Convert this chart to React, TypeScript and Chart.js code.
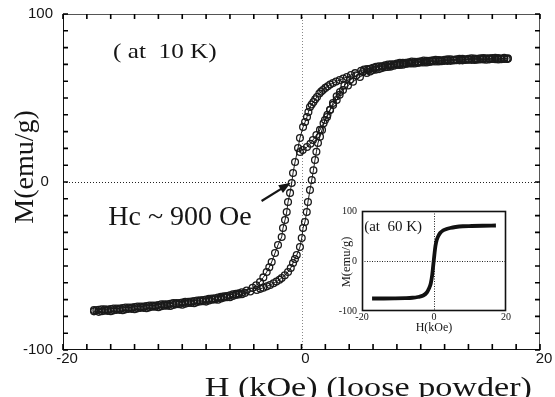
import React, { useEffect, useRef } from "react";
import { Chart, registerables } from "chart.js";

Chart.register(...registerables);

// ---------- Main loop at 10 K: [H (kOe), M (emu/g)] ----------
// initial branch (starting near remanence, going to +H max)
const INIT_LOOP: [number, number][] = [
  [-0.13, 17.9], [0.1, 19.0], [0.46, 20.8], [0.75, 22.8], [0.96, 25.0], [1.25, 28.0], [1.55, 31.0], [1.85, 35.0],
  [2.14, 38.7], [2.4, 43.0], [2.64, 47.0], [2.95, 51.0], [3.23, 53.6], [3.6, 57.5], [4.07, 60.7], [4.6, 63.5],
  [5.15, 65.5], [5.6, 66.6], [6.2, 67.8], [6.8, 68.7], [7.4, 69.5], [8.0, 70.1], [8.6, 70.6], [9.2, 71.0],
  [9.8, 71.4], [10.4, 71.7], [11.0, 72.0], [11.6, 72.2], [12.2, 72.4], [12.8, 72.6], [13.4, 72.8], [14.0, 72.9],
  [14.6, 73.1], [15.2, 73.2], [15.8, 73.3], [16.4, 73.3], [17.0, 73.4], [17.3, 73.3],
];

// descending branch (+H max -> -H max)
const DESC_LOOP: [number, number][] = [
  [17.3, 73.6], [17.0, 73.9], [16.75, 73.5], [16.5, 73.8], [16.25, 74.0], [16.0, 73.8], [15.75, 73.6], [15.5, 73.7],
  [15.25, 73.8], [15.0, 73.6], [14.75, 73.3], [14.5, 73.5], [14.25, 73.6], [14.0, 73.4], [13.75, 73.1], [13.5, 73.3],
  [13.25, 73.4], [13.0, 73.1], [12.75, 72.8], [12.5, 73.0], [12.25, 73.1], [12.0, 72.8], [11.75, 72.5], [11.5, 72.6],
  [11.25, 72.7], [11.0, 72.4], [10.75, 72.1], [10.5, 72.2], [10.25, 72.3], [10.0, 71.9], [9.75, 71.6], [9.5, 71.6],
  [9.25, 71.7], [9.0, 71.3], [8.75, 70.9], [8.5, 70.9], [8.25, 70.9], [8.0, 70.5], [7.75, 70.1], [7.5, 70.0],
  [7.25, 69.9], [7.0, 69.4], [6.75, 68.9], [6.5, 68.8], [6.25, 68.6], [6.0, 68.0], [5.75, 67.4], [5.5, 67.2],
  [5.25, 66.9], [5.0, 66.2], [4.5, 64.8], [4.15, 63.7], [3.81, 62.5], [3.5, 61.6], [3.2, 60.7], [2.9, 59.8],
  [2.64, 58.9], [2.4, 58.0], [2.2, 57.0], [2.0, 56.0], [1.8, 54.8], [1.65, 53.8], [1.5, 52.7], [1.3, 50.6],
  [1.15, 49.2], [1.0, 47.6], [0.85, 46.1], [0.71, 44.6], [0.58, 41.6], [0.46, 38.7], [0.3, 35.7], [0.13, 32.7],
  [-0.13, 26.2], [-0.29, 20.2], [-0.54, 11.9], [-0.71, 5.4], [-0.82, -0.6], [-0.96, -6.5], [-1.13, -11.9], [-1.24, -17.9],
  [-1.38, -22.6], [-1.55, -27.4], [-1.66, -32.7], [-1.97, -37.5], [-2.22, -42.3], [-2.5, -47.6], [-2.7, -50.7], [-2.92, -53.6],
  [-3.2, -56.8], [-3.48, -59.5], [-3.8, -61.5], [-4.1, -63.0], [-4.6, -64.6], [-5.0, -65.6], [-5.25, -66.3], [-5.5, -66.6],
  [-5.75, -66.8], [-6.0, -67.4], [-6.25, -67.9], [-6.5, -68.1], [-6.75, -68.3], [-7.0, -68.8], [-7.25, -69.2], [-7.5, -69.4],
  [-7.75, -69.5], [-8.0, -69.9], [-8.25, -70.3], [-8.5, -70.4], [-8.75, -70.5], [-9.0, -70.9], [-9.25, -71.2], [-9.5, -71.3],
  [-9.75, -71.3], [-10.0, -71.7], [-10.25, -72.0], [-10.5, -72.1], [-10.75, -72.1], [-11.0, -72.5], [-11.25, -72.8], [-11.5, -72.8],
  [-11.75, -72.8], [-12.0, -73.2], [-12.25, -73.5], [-12.5, -73.5], [-12.75, -73.5], [-13.0, -73.8], [-13.25, -74.1], [-13.5, -74.1],
  [-13.75, -74.1], [-14.0, -74.4], [-14.25, -74.7], [-14.5, -74.7], [-14.75, -74.7], [-15.0, -75.0], [-15.25, -75.3], [-15.5, -75.3],
  [-15.75, -75.3], [-16.0, -75.6], [-16.25, -75.9], [-16.5, -75.8], [-16.75, -75.8], [-17.0, -76.0], [-17.2, -76.3], [-17.4, -76.2],
];

// ascending branch (-H max -> +H max)
const ASC_LOOP: [number, number][] = [
  [-17.4, -77.0], [-17.0, -77.3], [-16.75, -76.9], [-16.5, -76.6], [-16.25, -76.7], [-16.0, -76.9], [-15.75, -76.4], [-15.5, -76.1],
  [-15.25, -76.1], [-15.0, -76.3], [-14.75, -75.8], [-14.5, -75.5], [-14.25, -75.5], [-14.0, -75.7], [-13.75, -75.2], [-13.5, -74.9],
  [-13.25, -74.9], [-13.0, -75.1], [-12.75, -74.6], [-12.5, -74.3], [-12.25, -74.3], [-12.0, -74.5], [-11.75, -73.9], [-11.5, -73.6],
  [-11.25, -73.6], [-11.0, -73.8], [-10.75, -73.2], [-10.5, -72.8], [-10.25, -72.8], [-10.0, -73.0], [-9.75, -72.4], [-9.5, -72.0],
  [-9.25, -72.0], [-9.0, -72.2], [-8.75, -71.5], [-8.5, -71.1], [-8.25, -71.0], [-8.0, -71.2], [-7.75, -70.5], [-7.5, -70.1],
  [-7.25, -69.9], [-7.0, -70.1], [-6.75, -69.3], [-6.5, -68.8], [-6.25, -68.6], [-6.0, -68.6], [-5.75, -67.8], [-5.5, -67.2],
  [-5.25, -67.0], [-5.0, -66.8], [-4.75, -66.0], [-4.3, -65.2], [-3.75, -64.3], [-3.45, -63.6], [-3.2, -62.9], [-2.9, -62.1],
  [-2.64, -61.3], [-2.35, -60.3], [-2.1, -59.3], [-1.85, -58.2], [-1.66, -57.1], [-1.4, -55.5], [-1.13, -53.6], [-0.9, -51.2],
  [-0.71, -48.2], [-0.55, -45.8], [-0.4, -43.5], [-0.13, -38.7], [0.02, -33.3], [0.13, -27.4], [0.29, -23.8], [0.44, -17.9],
  [0.54, -11.9], [0.71, -4.8], [0.86, 1.2], [1.0, 7.0], [1.13, 13.1], [1.25, 18.0], [1.38, 23.2], [1.55, 27.0],
  [1.72, 31.0], [1.97, 36.9], [2.18, 40.0], [2.39, 42.9], [2.65, 45.9], [2.95, 48.8], [3.2, 51.9], [3.48, 54.8],
  [3.9, 57.4], [4.32, 59.7], [4.9, 62.5], [5.47, 64.9], [5.75, 65.8], [6.0, 66.6], [6.25, 66.9], [6.5, 67.2],
  [6.75, 67.8], [7.0, 68.3], [7.25, 68.5], [7.5, 68.7], [7.75, 69.2], [8.0, 69.6], [8.25, 69.7], [8.5, 69.8],
  [8.75, 70.2], [9.0, 70.5], [9.25, 70.6], [9.5, 70.6], [9.75, 70.9], [10.0, 71.2], [10.25, 71.2], [10.5, 71.2],
  [10.75, 71.5], [11.0, 71.7], [11.25, 71.7], [11.5, 71.7], [11.75, 71.9], [12.0, 72.1], [12.25, 72.1], [12.5, 72.1],
  [12.75, 72.3], [13.0, 72.5], [13.25, 72.4], [13.5, 72.4], [13.75, 72.6], [14.0, 72.8], [14.25, 72.7], [14.5, 72.6],
  [14.75, 72.8], [15.0, 73.0], [15.25, 72.9], [15.5, 72.8], [15.75, 73.0], [16.0, 73.2], [16.25, 73.1], [16.5, 72.9],
  [16.75, 73.1], [17.0, 73.3], [17.2, 73.2],
];

// ---------- Inset loop at 60 K ----------
const INSET_H = [-17.2, -14, -11, -8, -6, -4.5, -3, -2, -1.4, -0.9, -0.5, -0.2, 0.1, 0.4, 0.75, 1.2, 1.7, 2.5, 3.5, 4.5, 6, 8, 10.5, 13.5, 17.2];
const INSET_M = [-75, -75, -74.8, -74.3, -73.5, -72, -69, -63, -55, -45, -28, -8, 12, 30, 42, 50, 56, 61, 64, 66, 68, 69.5, 70, 70.5, 71];

// ---------- Axis ticks, tick labels & texts ----------
const MAIN_X_TICK_STEP = 2;
const MAIN_Y_TICK_STEP = 10;
const MAIN_X_LABELS = [-20, 0, 20];
const MAIN_Y_LABELS = [-100, 0, 100];
const INSET_X_LABELS = [-20, 0, 20];
const INSET_Y_LABELS = [-100, 0, 100];

const X_TITLE = "H (kOe) (loose powder)";
const Y_TITLE = "M(emu/g)";
const MAIN_TEMP_LABEL = "( at  10 K)";
const HC_LABEL = "Hc ~ 900 Oe";
const INSET_TEMP_LABEL = "(at  60 K)";
const INSET_X_TITLE = "H(kOe)";
const INSET_Y_TITLE = "M(emu/g)";

const SERIF = "'Liberation Serif', 'Times New Roman', serif";
const SANS = "'Liberation Sans', Arial, sans-serif";
const INK = "#151515";

function toPoints(xs: number[], ys: number[]) {
  return xs.map((x, i) => ({ x, y: ys[i] }));
}

function pairsToPoints(pairs: [number, number][]) {
  return pairs.map(([x, y]) => ({ x, y }));
}

function drawText(
  ctx: CanvasRenderingContext2D,
  text: string,
  x: number,
  y: number,
  font: string,
  align: CanvasTextAlign = "left",
  sx = 1,
  rotate = 0
) {
  ctx.save();
  ctx.translate(x, y);
  if (rotate) ctx.rotate(rotate);
  ctx.scale(sx, 1);
  ctx.font = font;
  ctx.fillStyle = INK;
  ctx.textAlign = align;
  ctx.textBaseline = "alphabetic";
  ctx.fillText(text, 0, 0);
  ctx.restore();
}

function seg(ctx: CanvasRenderingContext2D, x1: number, y1: number, x2: number, y2: number) {
  ctx.beginPath();
  ctx.moveTo(x1, y1);
  ctx.lineTo(x2, y2);
  ctx.stroke();
}

function tickValues(min: number, max: number, step: number) {
  const out: number[] = [];
  for (let v = min; v <= max + 1e-9; v += step) out.push(Math.round(v * 1000) / 1000);
  return out;
}

const mainDecor = {
  id: "mainDecor",
  beforeDatasetsDraw(chart: any) {
    const { ctx, chartArea: a, scales } = chart;
    const x = scales.x;
    const y = scales.y;
    ctx.save();
    ctx.lineWidth = 1;
    // dotted zero lines
    ctx.setLineDash([1, 2]);
    const y0 = Math.round(y.getPixelForValue(0)) + 0.5;
    ctx.strokeStyle = "#222";
    seg(ctx, a.left, y0, a.right, y0);
    const x0 = Math.round(x.getPixelForValue(0)) + 0.5;
    ctx.strokeStyle = "#888";
    seg(ctx, x0, a.top, x0, a.bottom);
    ctx.setLineDash([]);
    // frame
    ctx.strokeStyle = "#111";
    seg(ctx, a.left + 0.5, a.top, a.left + 0.5, a.bottom);
    seg(ctx, a.left, a.bottom - 0.5, a.right, a.bottom - 0.5);
    ctx.strokeStyle = "#555";
    seg(ctx, a.left, a.top + 0.5, a.right, a.top + 0.5);
    seg(ctx, a.right - 0.5, a.top, a.right - 0.5, a.bottom);
    // inward ticks on all four sides
    ctx.lineWidth = 1.6;
    ctx.strokeStyle = "#000";
    const xs = tickValues(-20, 20, MAIN_X_TICK_STEP);
    for (let i = 0; i < xs.length; i++) {
      const px = x.getPixelForValue(xs[i]);
      ctx.beginPath();
      ctx.moveTo(px, a.bottom);
      ctx.lineTo(px, a.bottom - 6);
      ctx.moveTo(px, a.top);
      ctx.lineTo(px, a.top + 5);
      ctx.stroke();
    }
    const ys = tickValues(-100, 100, MAIN_Y_TICK_STEP);
    for (let i = 0; i < ys.length; i++) {
      const py = y.getPixelForValue(ys[i]);
      ctx.beginPath();
      ctx.moveTo(a.left, py);
      ctx.lineTo(a.left + 5, py);
      ctx.moveTo(a.right, py);
      ctx.lineTo(a.right - 5, py);
      ctx.stroke();
    }
    ctx.restore();
  },
  afterDatasetsDraw(chart: any) {
    const { ctx, chartArea: a, scales } = chart;
    const x = scales.x;
    const y = scales.y;
    // annotations
    drawText(ctx, MAIN_TEMP_LABEL, x.getPixelForValue(-15.8), y.getPixelForValue(74.0), `21px ${SERIF}`, "left", 1.2);
    drawText(ctx, HC_LABEL, x.getPixelForValue(-16.2), y.getPixelForValue(-25.6), `28px ${SERIF}`, "left", 1);
    // arrow to Hc
    const tx = x.getPixelForValue(-3.35);
    const ty = y.getPixelForValue(-11.3);
    const hx = x.getPixelForValue(-0.9);
    const hy = y.getPixelForValue(-0.5);
    const ang = Math.atan2(hy - ty, hx - tx);
    const dx = Math.cos(ang);
    const dy = Math.sin(ang);
    ctx.save();
    ctx.strokeStyle = INK;
    ctx.fillStyle = INK;
    ctx.lineWidth = 2.2;
    seg(ctx, tx, ty, hx - dx * 8, hy - dy * 8);
    ctx.beginPath();
    ctx.moveTo(hx, hy);
    ctx.lineTo(hx - dx * 12 - dy * 4.5, hy - dy * 12 + dx * 4.5);
    ctx.lineTo(hx - dx * 12 + dy * 4.5, hy - dy * 12 - dx * 4.5);
    ctx.closePath();
    ctx.fill();
    ctx.restore();
    // axis titles
    drawText(ctx, Y_TITLE, a.left - 30, a.top + 153, `28px ${SERIF}`, "center", 1, -Math.PI / 2);
    drawText(ctx, X_TITLE, a.right - 8, chart.height - 1, `28px ${SERIF}`, "right", 1.22);
  },
};

const insetDecor = {
  id: "insetDecor",
  beforeDatasetsDraw(chart: any) {
    const { ctx, chartArea: a, scales } = chart;
    const x = scales.x;
    const y = scales.y;
    ctx.save();
    ctx.lineWidth = 1;
    ctx.setLineDash([1, 1.5]);
    ctx.strokeStyle = "#222";
    const y0 = Math.round(y.getPixelForValue(0)) + 0.5;
    seg(ctx, a.left, y0, a.right, y0);
    const x0 = Math.round(x.getPixelForValue(0)) + 0.5;
    seg(ctx, x0, a.top, x0, a.bottom);
    ctx.setLineDash([]);
    ctx.lineWidth = 1.6;
    ctx.strokeStyle = "#111";
    ctx.strokeRect(a.left + 0.5, a.top + 0.5, a.right - a.left - 1, a.bottom - a.top - 1);
    ctx.restore();
  },
  afterDatasetsDraw(chart: any) {
    const { ctx, chartArea: a, scales } = chart;
    const x = scales.x;
    const y = scales.y;
    drawText(ctx, INSET_TEMP_LABEL, x.getPixelForValue(-19.4), y.getPixelForValue(60), `15px ${SERIF}`, "left", 1);
    drawText(ctx, INSET_Y_TITLE, a.left - 12, (a.top + a.bottom) / 2 + 1, `12.5px ${SERIF}`, "center", 1, -Math.PI / 2);
    drawText(ctx, INSET_X_TITLE, (a.left + a.right) / 2, a.bottom + 20, `12px ${SERIF}`, "center", 1);
  },
};

const loopStyle = {
  showLine: true,
  borderColor: "#1a1a1a",
  borderWidth: 1,
  pointRadius: 3.4,
  pointBorderWidth: 1.3,
  pointBorderColor: "#1a1a1a",
  pointBackgroundColor: "rgba(255,255,255,0)",
  pointHoverRadius: 3.4,
  tension: 0,
};

function fixedBox(width?: number, height?: number) {
  return (s: any) => {
    if (width !== undefined) s.width = width;
    if (height !== undefined) s.height = height;
    s.paddingTop = 0;
    s.paddingBottom = 0;
    s.paddingLeft = 0;
    s.paddingRight = 0;
  };
}

export default function App() {
  const mainRef = useRef<HTMLCanvasElement | null>(null);
  const insetRef = useRef<HTMLCanvasElement | null>(null);

  useEffect(() => {
    document.body.style.margin = "0";
    const main = new Chart(mainRef.current as HTMLCanvasElement, {
      type: "scatter",
      data: {
        datasets: [
          { label: "ascending", data: pairsToPoints(ASC_LOOP), ...loopStyle },
          { label: "descending", data: pairsToPoints(DESC_LOOP), ...loopStyle },
          { label: "initial", data: pairsToPoints(INIT_LOOP), ...loopStyle },
        ],
      },
      options: {
        responsive: false,
        animation: false,
        events: [],
        layout: { padding: { top: 14, right: 15, left: 0, bottom: 0 } },
        plugins: { legend: { display: false }, tooltip: { enabled: false } },
        scales: {
          x: {
            type: "linear",
            min: -20,
            max: 20,
            grid: { display: false, drawTicks: false, tickLength: 0 },
            border: { display: false },
            ticks: {
              stepSize: MAIN_X_TICK_STEP,
              autoSkip: false,
              maxRotation: 0,
              padding: 0,
              labelOffset: 4,
              color: INK,
              font: { family: SANS, size: 15 },
              callback: (v: any) => (MAIN_X_LABELS.includes(Number(v)) ? String(v) : ""),
            },
            afterFit: fixedBox(undefined, 47),
          },
          y: {
            type: "linear",
            min: -100,
            max: 100,
            grid: { display: false, drawTicks: false, tickLength: 0 },
            border: { display: false },
            ticks: {
              stepSize: MAIN_Y_TICK_STEP,
              autoSkip: false,
              padding: 10,
              color: INK,
              font: { family: SANS, size: 15 },
              callback: (v: any) => {
                const n = Number(v);
                if (!MAIN_Y_LABELS.includes(n)) return "";
                return n === 0 ? "0 " : String(n);
              },
            },
            afterFit: fixedBox(63, undefined),
          },
        },
      },
      plugins: [mainDecor],
    } as any);

    const inset = new Chart(insetRef.current as HTMLCanvasElement, {
      type: "scatter",
      data: {
        datasets: [
          {
            label: "60 K",
            data: toPoints(INSET_H, INSET_M),
            showLine: true,
            borderColor: "#111",
            borderWidth: 3.8,
            pointRadius: 0,
            pointHoverRadius: 0,
            cubicInterpolationMode: "monotone",
          },
        ],
      },
      options: {
        responsive: false,
        animation: false,
        events: [],
        layout: { padding: { top: 13, right: 14, left: 0, bottom: 0 } },
        plugins: { legend: { display: false }, tooltip: { enabled: false } },
        scales: {
          x: {
            type: "linear",
            min: -20,
            max: 20,
            grid: { display: false, drawTicks: false, tickLength: 0 },
            border: { display: false },
            ticks: {
              stepSize: 20,
              autoSkip: false,
              maxRotation: 0,
              padding: 0,
              color: INK,
              font: { family: SERIF, size: 10 },
              callback: (v: any) => (INSET_X_LABELS.includes(Number(v)) ? String(v) : ""),
            },
            afterFit: fixedBox(undefined, 27),
          },
          y: {
            type: "linear",
            min: -100,
            max: 100,
            grid: { display: false, drawTicks: false, tickLength: 0 },
            border: { display: false },
            ticks: {
              stepSize: 100,
              autoSkip: false,
              padding: 5,
              color: INK,
              font: { family: SERIF, size: 10 },
              callback: (v: any) => (INSET_Y_LABELS.includes(Number(v)) ? String(v) : ""),
            },
            afterFit: fixedBox(32, undefined),
          },
        },
      },
      plugins: [insetDecor],
    } as any);

    return () => {
      main.destroy();
      inset.destroy();
    };
  }, []);

  return (
    <div style={{ position: "fixed", left: 0, top: 0, width: 555, height: 397, background: "#fff" }}>
      <canvas ref={mainRef} width={555} height={397} style={{ position: "absolute", left: 0, top: 0 }} />
      <canvas ref={insetRef} width={190} height={140} style={{ position: "absolute", left: 330, top: 198 }} />
    </div>
  );
}
